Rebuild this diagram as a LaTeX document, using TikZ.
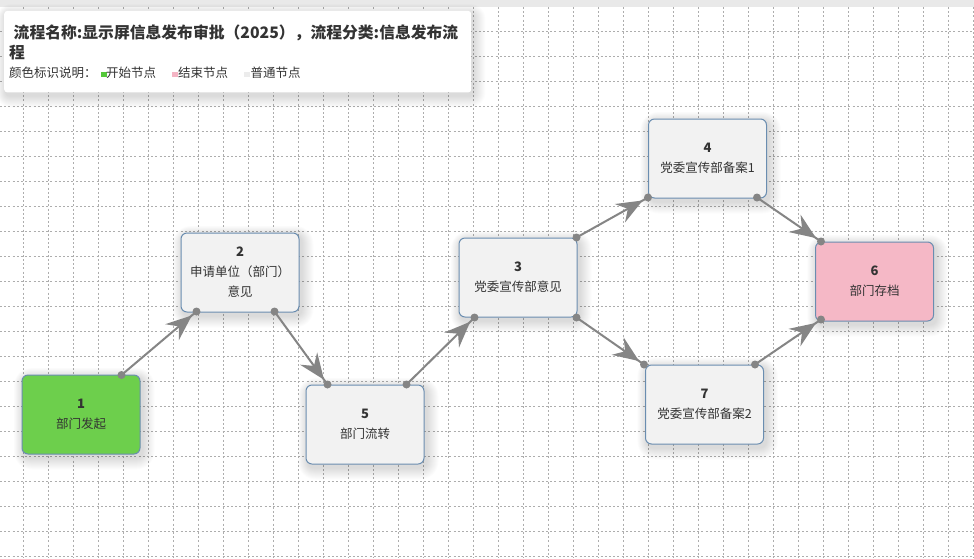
\documentclass[tikz,border=0pt]{standalone}
\usepackage{fontspec}
\setmainfont{Noto Sans CJK SC}
\usetikzlibrary{calc,arrows.meta,decorations.markings}
\pgfdeclarelayer{gridlayer}
\pgfdeclarelayer{background}
\pgfsetlayers{gridlayer,background,main}
\definecolor{gridc}{HTML}{ADADAD}
\definecolor{bandc}{HTML}{E9E9E9}
\definecolor{borderc}{HTML}{6A8DB0}
\definecolor{normalc}{HTML}{F2F2F2}
\definecolor{startc}{HTML}{6DCF4C}
\definecolor{endc}{HTML}{F5B8C6}
\definecolor{linkc}{HTML}{858585}
\definecolor{textc}{HTML}{333333}
\definecolor{legstart}{HTML}{55C83A}
\definecolor{legend}{HTML}{F4B4C4}
\definecolor{legnormal}{HTML}{ECECEC}
\tikzset{
  gridline/.style={gridc, line width=0.7pt, dash pattern=on 2pt off 2.2pt},
  flownode/.style={rectangle, rounded corners=6pt, draw=borderc, line width=1pt,
    minimum width=118pt, minimum height=79pt, inner sep=0pt, align=center,
    text=textc, font=\fontsize{12.5}{20}\selectfont},
  normalnode/.style={flownode, fill=normalc},
  startnode/.style={flownode, fill=startc},
  endnode/.style={flownode, fill=endc},
  flow/.style={linkc, line width=2pt,
    postaction={decorate},
    decoration={markings, mark=at position -6pt with {\arrow{Stealth[length=26pt,width=21pt,inset=9pt]}}}},
  enddot/.style={circle, fill=linkc, minimum size=8pt, inner sep=0pt},
  legendbox/.style={rectangle, rounded corners=3pt, fill=white, inner sep=0pt},
  txt/.style={anchor=west, inner sep=0pt, text=textc},
  swatch/.style={rectangle, inner sep=0pt, minimum size=5.5pt, anchor=west},
}
\newcommand{\nlab}[2]{{\fontsize{13}{20}\selectfont\bfseries #1}\\#2}
% soft shadow behind a named node: #1 node, #2 corner radius
\newcommand{\softshadow}[2]{%
  \begin{pgfonlayer}{background}
  \foreach \r in {1,2,...,12} {
    \fill[black, opacity=0.011, rounded corners=#2+\r*1pt]
      ($(#1.north west)+(2-\r*0.8,3-\r*0.8)$) rectangle ($(#1.south east)+(2+\r,3+\r)$);
  }
  \end{pgfonlayer}}
\begin{document}
\begin{tikzpicture}[x=1pt,y=-1pt]
\useasboundingbox (0,0) rectangle (974,558);
\begin{pgfonlayer}{gridlayer}
\fill[white] (0,0) rectangle (974,558);
\fill[bandc] (0,0) rectangle (974,7);
\foreach \k in {0,...,38} {
  \draw[gridline] (23.5+25*\k,7) -- (23.5+25*\k,558);
}
\foreach \k in {1,...,22} {
  \draw[gridline] (0,6+25*\k) -- (974,6+25*\k);
}
\end{pgfonlayer}
% legend box
\node[legendbox, anchor=north west, minimum width=467pt, minimum height=81.5pt] (legendbg) at (4,10.7) {};
\softshadow{legendbg}{3pt}
\node[txt, font=\fontsize{15.8}{18}\selectfont\bfseries] (title1) at (13.5,33) {流程名称:显示屏信息发布审批（2025），流程分类:信息发布流};
\node[txt, font=\fontsize{15.8}{18}\selectfont\bfseries] (title2) at (9,53) {程};
\node[txt, font=\fontsize{12.5}{15}\selectfont] (legtitle) at (9,73) {颜色标识说明：};
\node[swatch, fill=legstart] (sw1) at (101,74.5) {};
\node[txt, font=\fontsize{12.5}{15}\selectfont] (lg1) at (106,73) {开始节点};
\node[swatch, fill=legend] (sw2) at (172,74.5) {};
\node[txt, font=\fontsize{12.5}{15}\selectfont] (lg2) at (178,73) {结束节点};
\node[swatch, fill=legnormal] (sw3) at (244,74.5) {};
\node[txt, font=\fontsize{12.5}{15}\selectfont] (lg3) at (250.5,73) {普通节点};
% nodes
\node[startnode]  (n1) at (81,414.5)  {\nlab{1}{部门发起}};
\node[normalnode] (n2) at (240,272.5) {\nlab{2}{申请单位（部门）\\意见}};
\node[normalnode] (n5) at (365,424.5) {\nlab{5}{部门流转}};
\node[normalnode] (n3) at (518,277.5) {\nlab{3}{党委宣传部意见}};
\node[normalnode] (n4) at (707.5,158.5) {\nlab{4}{党委宣传部备案1}};
\node[endnode]    (n6) at (874.5,281.5) {\nlab{6}{部门存档}};
\node[normalnode] (n7) at (704.5,404.5) {\nlab{7}{党委宣传部备案2}};
\foreach \n in {n1,n2,n3,n4,n5,n6,n7} { \softshadow{\n}{6pt} }
% connection points
\coordinate (p1a) at ($(n1.north west)+(100,0.5)$);
\coordinate (p2a) at ($(n2.south west)+(16,-1)$);
\coordinate (p2b) at ($(n2.south east)+(-25,-1)$);
\coordinate (p5a) at ($(n5.north west)+(22,0)$);
\coordinate (p5b) at ($(n5.north west)+(101,0)$);
\coordinate (p3a) at ($(n3.south west)+(16,0)$);
\coordinate (p3b) at ($(n3.north east)+(-1,0)$);
\coordinate (p3c) at ($(n3.south east)+(-1,0)$);
\coordinate (p4a) at ($(n4.south west)+(0,-1)$);
\coordinate (p4b) at ($(n4.south east)+(-10,-1)$);
\coordinate (p6a) at ($(n6.north west)+(6,0)$);
\coordinate (p6b) at ($(n6.south west)+(6,-2)$);
\coordinate (p7a) at ($(n7.north west)+(-1,0)$);
\coordinate (p7b) at ($(n7.north east)+(-9,0)$);
% connectors
\draw[flow] (p1a) -- (p2a);
\draw[flow] (p2b) -- (p5a);
\draw[flow] (p5b) -- (p3a);
\draw[flow] (p3b) -- (p4a);
\draw[flow] (p4b) -- (p6a);
\draw[flow] (p3c) -- (p7a);
\draw[flow] (p7b) -- (p6b);
\foreach \p in {p1a,p2a,p2b,p5a,p5b,p3a,p3b,p3c,p4a,p4b,p6a,p6b,p7a,p7b} {
  \node[enddot] at (\p) {};
}
\end{tikzpicture}
\end{document}
